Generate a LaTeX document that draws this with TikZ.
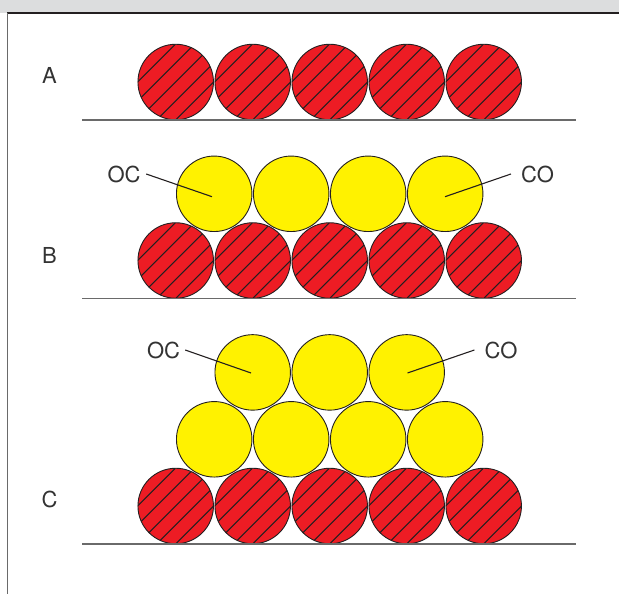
\documentclass[tikz,border=0pt]{standalone}
\usepackage{fontspec}
\setmainfont{TeX Gyre Heros}
\definecolor{ballred}{HTML}{ED1C24}
\definecolor{ballyellow}{HTML}{FFF200}
\definecolor{headgray}{HTML}{DCDDDE}
\definecolor{inkdark}{HTML}{231F20}
\definecolor{basegray}{HTML}{6A6A6A}
\definecolor{textgray}{HTML}{333333}
\tikzset{
  ball/.style={circle, draw=inkdark, line width=0.9pt, minimum size=75.5pt, inner sep=0pt},
  redball/.style={ball, fill=ballred, path picture={
      \foreach \k in {-2,...,2}{
        \draw[inkdark, line width=1.1pt] (path picture bounding box.center) ++(\k*9.5-45,\k*9.5+45) -- ++(90,-90);
      }}},
  yellowball/.style={ball, fill=ballyellow},
  baseline/.style={draw=basegray, line width=1.5pt},
  rowlabel/.style={text=textgray, font=\fontsize{22}{26}\selectfont, inner sep=0pt},
  leader/.style={draw=inkdark, line width=1.1pt}
}
\begin{document}
\begin{tikzpicture}[x=1pt, y=-1pt]
\useasboundingbox (0,0) rectangle (619,594);
% header and frame
\fill[headgray] (0,0) rectangle (619,13);
\draw[inkdark, line width=1.3pt] (7,13) -- (619,13);
\draw[basegray, line width=1pt] (7,13) -- (7,594);

% ---------- Row A ----------
\node[rowlabel] (lA) at (49.5,75.5) {A};
\foreach \i [count=\n] in {0,...,4}{
  \node[redball] (a\n) at (175.7+\i*77,82) {};
}
\coordinate (aL) at (82,120);
\coordinate (aR) at (575.5,120);
\draw[baseline] (aL) -- (aR);

% ---------- Row B ----------
\node[rowlabel] (lB) at (49.5,255) {B};
\foreach \i [count=\n] in {0,...,4}{
  \node[redball] (b\n) at (175.7+\i*77,260.5) {};
}
\foreach \i [count=\n] in {0,...,3}{
  \node[yellowball] (by\n) at (214.2+\i*77,193.8) {};
}
\coordinate (bL) at (82,298.5);
\coordinate (bR) at (575.5,298.5);
\draw[baseline] (bL) -- (bR);
\node[rowlabel] (ocB) at (124,174) {OC};
\node[rowlabel] (coB) at (537.5,174) {CO};
\coordinate (pB1) at (212,196.7);
\coordinate (pB4) at (445,196.7);
\draw[leader] ([xshift=5.5pt]ocB.east) -- (pB1);
\draw[leader] ([xshift=-10pt]coB.west) -- (pB4);

% ---------- Row C ----------
\node[rowlabel] (lC) at (49.5,499) {C};
\foreach \i [count=\n] in {0,...,4}{
  \node[redball] (c\n) at (175.7+\i*77,506) {};
}
\foreach \i [count=\n] in {0,...,3}{
  \node[yellowball] (cy\n) at (214.2+\i*77,439.3) {};
}
\foreach \i [count=\n] in {0,...,2}{
  \node[yellowball] (ct\n) at (252.7+\i*77,372.4) {};
}
\coordinate (cL) at (82,544);
\coordinate (cR) at (575.5,544);
\draw[baseline] (cL) -- (cR);
\node[rowlabel] (ocC) at (163.5,350) {OC};
\node[rowlabel] (coC) at (501,350) {CO};
\coordinate (pC1) at (251,373);
\coordinate (pC3) at (407.5,373);
\draw[leader] ([xshift=5pt]ocC.east) -- (pC1);
\draw[leader] ([xshift=-10pt]coC.west) -- (pC3);
\end{tikzpicture}
\end{document}
